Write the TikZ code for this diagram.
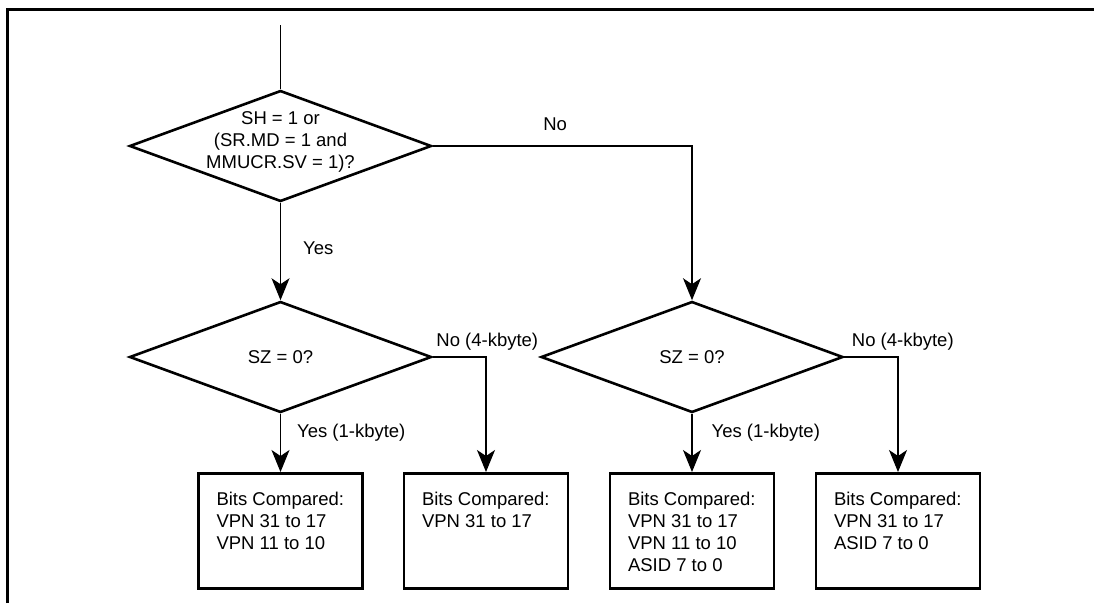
\documentclass[tikz,border=0pt]{standalone}
\usepackage{fontspec}
\setmainfont{Liberation Sans}
\usetikzlibrary{shapes.geometric,arrows.meta,positioning}
\newcommand{\cmpbits}[1]{\parbox[t][77pt][t]{128pt}{Bits Compared:\\#1}}
\begin{document}
\begin{tikzpicture}[
  x=1pt, y=-1pt,
  font=\fontsize{18.5}{22}\selectfont,
  decision/.style={draw, diamond, line width=2.6pt, minimum width=302pt, minimum height=111pt, inner sep=0pt},
  result/.style={draw, rectangle, line width=2.6pt, anchor=north, inner xsep=18pt, inner ysep=19pt},
  flow/.style={line width=1.2pt, -{Stealth[length=22pt,width=18pt,inset=6pt]}},
  tag/.style={inner sep=0pt}
]
\useasboundingbox (0,0) rectangle (1094,603);
\draw[line width=3pt] (7,603) -- (7,9) -- (1094,9);

\coordinate (entry) at (280.5,25);
\node[decision, label={[tag, align=center, yshift=4pt]center:{SH = 1 or\\(SR.MD = 1 and\\MMUCR.SV = 1)?}}] (d1) at (280.5,146) {};
\node[decision, label={[tag]center:{SZ = 0?}}] (d2) at (280.5,357) {};
\node[decision, label={[tag]center:{SZ = 0?}}] (d3) at (692,357) {};

\node[result] (b1) at (280.5,472) {\cmpbits{VPN 31 to 17\\VPN 11 to 10}};
\node[result] (b2) at (486,472) {\cmpbits{VPN 31 to 17}};
\node[result] (b3) at (692,472) {\cmpbits{VPN 31 to 17\\VPN 11 to 10\\ASID 7 to 0}};
\node[result] (b4) at (898,472) {\cmpbits{VPN 31 to 17\\ASID 7 to 0}};

\draw[line width=1.2pt] (entry) -- (d1.north);
\draw[flow] (d1.south) -- node[tag, pos=0.53, anchor=base west, xshift=22pt] {Yes} (d2.north);
\draw[flow] (d1.east) -| node[tag, pos=0.236, anchor=base, yshift=16pt] {No} (d3.north);
\draw[flow] (d2.south) -- node[tag, pos=0.41, anchor=base west, xshift=16pt] {Yes (1-kbyte)} (b1.north);
\draw[flow] (d2.east) -| node[tag, pos=0, anchor=base west, xshift=3pt, yshift=11pt] {No (4-kbyte)} (b2.north);
\draw[flow] (d3.south) -- node[tag, pos=0.41, anchor=base west, xshift=19pt] {Yes (1-kbyte)} (b3.north);
\draw[flow] (d3.east) -| node[tag, pos=0, anchor=base west, xshift=7pt, yshift=11pt] {No (4-kbyte)} (b4.north);
\end{tikzpicture}
\end{document}
